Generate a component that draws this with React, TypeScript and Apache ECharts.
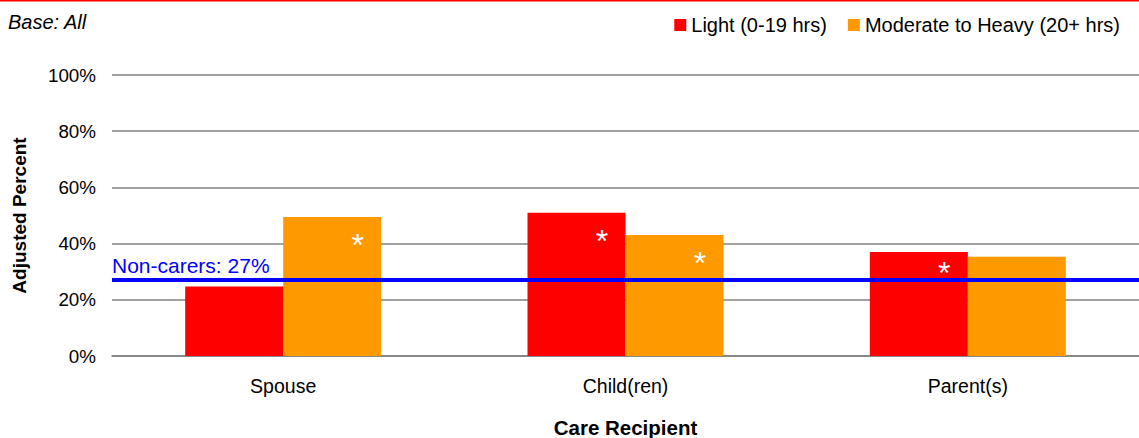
import React, { useEffect, useRef } from "react";
import * as echarts from "echarts";

// Categories and series values (adjusted percent)
const categories = ["Spouse", "Child(ren)", "Parent(s)"];
const lightValues = [24.7, 51, 37];
const heavyValues = [49.5, 43.1, 35.3];
// Significant differences vs. non-carers, marked with an asterisk
const lightSig = [false, true, true];
const heavySig = [true, true, false];
const nonCarers = 27;
const yTicks = [0, 20, 40, 60, 80, 100];

const FONT = "'Liberation Sans', Arial, sans-serif";
const PLOT_TOP = 75;
const PLOT_BOTTOM = 82;
const CHART_H = 438;
const PX_PER_UNIT = (CHART_H - PLOT_TOP - PLOT_BOTTOM) / 100;

export default function App() {
  const ref = useRef<HTMLDivElement>(null);

  useEffect(() => {
    document.body.style.margin = "0";
    const chart = echarts.init(ref.current!, undefined, { renderer: "svg" });

    // The asterisk sits inside the bar near its top, kept clear of the reference line
    const starLabel = (v: number) => {
      const room = (v - nonCarers) * PX_PER_UNIT - 11;
      const dy = Math.min(24, room) + 4;
      return {
        show: true,
        formatter: "*",
        position: ["76%", dy] as any,
        align: "center",
        verticalAlign: "middle",
        color: "#ffffff",
        fontSize: 32,
        fontFamily: FONT,
      };
    };

    const mk = (vals: number[], sig: boolean[]) =>
      vals.map((v, i) => (sig[i] ? { value: v, label: starLabel(v) } : { value: v }));

    chart.setOption({
      animation: false,
      textStyle: { fontFamily: FONT, color: "#000" },
      grid: { left: 112, right: 0, top: PLOT_TOP, bottom: PLOT_BOTTOM, outerBoundsMode: "none" },
      legend: {
        right: 14,
        top: 10,
        icon: "rect",
        itemWidth: 12,
        itemHeight: 12,
        itemGap: 21,
        textStyle: { fontSize: 20, fontFamily: FONT, color: "#000" },
        data: ["Light (0-19 hrs)", "Moderate to Heavy (20+ hrs)"],
      },
      graphic: [
        {
          type: "rect",
          shape: { x: 0, y: 0, width: 1139, height: 1.5 },
          style: { fill: "#ff0000" },
        },
        {
          type: "text",
          x: 8,
          y: 12,
          style: {
            text: "Base: All",
            fontSize: 20,
            fontStyle: "italic",
            fontFamily: FONT,
            fill: "#000",
          },
        },
      ],
      xAxis: {
        type: "category",
        data: categories,
        name: "Care Recipient",
        nameLocation: "middle",
        nameGap: 61,
        nameTextStyle: {
          fontSize: 20.5,
          lineHeight: 20,
          fontWeight: "bold",
          fontFamily: FONT,
          color: "#000",
        },
        axisTick: { show: false },
        axisLine: { lineStyle: { color: "#808080", width: 1.5 } },
        axisLabel: { fontSize: 19.5, margin: 20, color: "#000", fontFamily: FONT },
      },
      yAxis: {
        type: "value",
        min: yTicks[0],
        max: yTicks[yTicks.length - 1],
        interval: 20,
        name: "Adjusted Percent",
        nameLocation: "middle",
        nameGap: 83,
        nameTextStyle: { fontSize: 19, fontWeight: "bold", fontFamily: FONT, color: "#000" },
        axisLabel: { formatter: "{value}%", fontSize: 18.8, margin: 16, color: "#000", fontFamily: FONT },
        splitLine: { lineStyle: { color: "#808080", width: 1.5 } },
        axisLine: { show: false },
        axisTick: { show: false },
      },
      series: [
        {
          name: "Light (0-19 hrs)",
          type: "bar",
          data: mk(lightValues, lightSig),
          barWidth: 98,
          barGap: "0%",
          itemStyle: { color: "#ff0000" },
          markLine: {
            silent: true,
            symbol: "none",
            data: [{ yAxis: nonCarers }],
            lineStyle: { color: "#0000ff", width: 4, type: "solid" },
            label: {
              show: true,
              position: "insideStartTop",
              formatter: "Non-carers: " + nonCarers + "%",
              color: "#0000ff",
              fontSize: 21,
              fontFamily: FONT,
              distance: [0, 4],
            },
            z: 10,
          },
        },
        {
          name: "Moderate to Heavy (20+ hrs)",
          type: "bar",
          data: mk(heavyValues, heavySig),
          barWidth: 98,
          barGap: "0%",
          itemStyle: { color: "#ff9900" },
        },
      ],
    });

    return () => chart.dispose();
  }, []);

  return (
    <div
      ref={ref}
      style={{ position: "absolute", left: 0, top: 0, width: 1139, height: CHART_H }}
    />
  );
}
